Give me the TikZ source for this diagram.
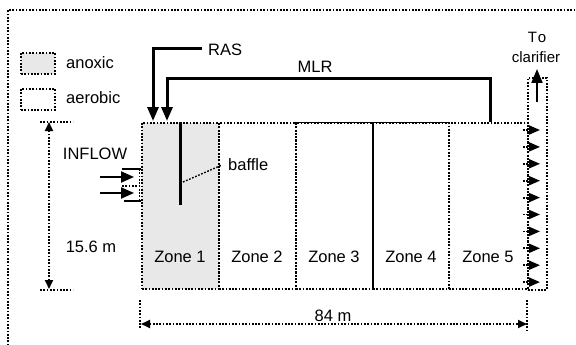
\documentclass[tikz,border=0pt]{standalone}
\usepackage{fontspec}
\setmainfont{Liberation Sans}
\usetikzlibrary{arrows.meta}
\definecolor{anoxgray}{RGB}{232,232,232}
\begin{document}
\begin{tikzpicture}[x=1pt,y=-1pt,
  dotln/.style={line width=1.8pt, dash pattern=on 1.7pt off 1.6pt},
  zone/.style={draw, dotln, minimum width=77pt, minimum height=166pt, inner sep=0pt, anchor=north west},
  lbl/.style={font=\fontsize{16.5}{19}\selectfont, inner sep=0pt},
  smlbl/.style={font=\fontsize{15}{18}\selectfont, inner sep=0pt},
  heavy/.style={line width=3pt},
  bigtip/.style={-{Triangle[length=14pt,width=11pt]}},
  intip/.style={-{Triangle[length=13pt,width=11pt]}},
  outtip/.style={-{Triangle[length=11pt,width=9pt]}},
  dimtip/.style={{Triangle[length=9pt,width=8pt]}-{Triangle[length=9pt,width=8pt]}},
]
\useasboundingbox (0,0) rectangle (576,345);
% outer frame
\coordinate (fb) at (8,352);
\coordinate (fc) at (8,10);
\coordinate (fr) at (584,10);
\draw[dotln] (fb) -- (fc) -- (fr);

% legend
\node[draw, dotln, fill=anoxgray, minimum width=34pt, minimum height=21pt, inner sep=0pt, anchor=north west] (lg1) at (20,52) {};
\node[lbl, anchor=west] (lt1) at (66,63) {anoxic};
\node[draw, dotln, minimum width=34pt, minimum height=21pt, inner sep=0pt, anchor=north west] (lg2) at (20,88) {};
\node[lbl, anchor=west] (lt2) at (66,98) {aerobic};

% clarifier channel
\node[draw, dotln, minimum width=19pt, minimum height=212pt, inner sep=0pt, anchor=north west] (ch) at (527,77) {};

% zones
\node[zone, fill=anoxgray] (z1) at (141,122) {};
\node[zone] (z2) at (218,122) {};
\node[zone] (z3) at (295,122) {};
\node[zone, minimum width=76pt] (z4) at (372,122) {};
\node[zone, minimum width=79pt] (z5) at (448,122) {};
\draw[line width=1pt] (z3.north west) -- (z4.north east);

\node[lbl] (zl1) at (180,257) {Zone 1};
\node[lbl] (zl2) at (257,257) {Zone 2};
\node[lbl] (zl3) at (334,257) {Zone 3};
\node[lbl] (zl4) at (411,257) {Zone 4};
\node[lbl] (zl5) at (488,257) {Zone 5};

% baffle
\coordinate (bt) at (180,122);
\coordinate (bb) at (180,205);
\draw[heavy] (bt) -- (bb);
\node[lbl, anchor=west] (bl) at (228,165) {baffle};
\coordinate (bp) at (183,182);
\coordinate (bq) at (222,165);
\draw[dotln, line width=1.4pt] (bp) -- (bq);

% RAS
\node[lbl, anchor=west] (ras) at (208,50) {RAS};
\coordinate (rs) at (202,49);
\coordinate (re) at (153,121);
\draw[heavy, bigtip] (rs) -| (re);

% MLR
\node[lbl] (mlr) at (315,67) {MLR};
\coordinate (ms) at (490,122);
\coordinate (mc) at (490,79);
\coordinate (me) at (167,121);
\draw[heavy, bigtip] (ms) -- (mc) -| (me);

% inflow
\node[lbl] (inf) at (95,154) {INFLOW};
\coordinate (i1s) at (100,177); \coordinate (i1e) at (134,177);
\coordinate (i2s) at (100,193); \coordinate (i2e) at (134,193);
\draw[line width=2pt, intip] (i1s) -- (i1e);
\draw[line width=2pt, intip] (i2s) -- (i2e);
\coordinate (p1) at (122,169); \coordinate (p2) at (141,169);
\coordinate (p3) at (122,186); \coordinate (p4) at (140,186);
\coordinate (p5) at (124,201); \coordinate (p6) at (141,201);
\coordinate (p7) at (139,169); \coordinate (p8) at (139,201);
\draw[line width=1.5pt] (p1) -- (p2);
\draw[dotln] (p3) -- (p4);
\draw[line width=1.5pt] (p5) -- (p6);
\draw[dotln, line width=0.8pt] (p7) -- (p8);

% outflow arrows
\foreach \i in {0,...,9}{
  \coordinate (o\i s) at (523,130+\i*16.9);
  \coordinate (o\i e) at (540,130+\i*16.9);
  \draw[dotln, outtip] (o\i s) -- (o\i e);
}

% to clarifier
\coordinate (cs) at (537,102);
\coordinate (ce) at (537,69);
\draw[line width=2pt, bigtip] (cs) -- (ce);
\node[smlbl] (to) at (537,37) {T\kern1pt o};
\node[smlbl] (cl) at (536,57) {clarifier};

% vertical dimension
\coordinate (dvt) at (49,122);
\coordinate (dvb) at (49,289);
\draw[dotln, dimtip] (dvb) -- (dvt);
\coordinate (t1a) at (40,122); \coordinate (t1b) at (73,122);
\coordinate (t2a) at (40,290); \coordinate (t2b) at (73,290);
\draw[dotln] (t1a) -- (t1b);
\draw[dotln] (t2a) -- (t2b);
\node[lbl] (h) at (91,247) {15.6 m};

% horizontal dimension
\coordinate (dhl) at (141,324);
\coordinate (dhr) at (527,324);
\draw[dotln, dimtip] (dhl) -- (dhr);
\coordinate (u1a) at (140,300); \coordinate (u1b) at (140,329);
\coordinate (u2a) at (527,300); \coordinate (u2b) at (527,330);
\draw[dotln] (u1a) -- (u1b);
\draw[dotln] (u2a) -- (u2b);
\node[lbl] (w) at (333,316) {84 m};
\end{tikzpicture}
\end{document}
